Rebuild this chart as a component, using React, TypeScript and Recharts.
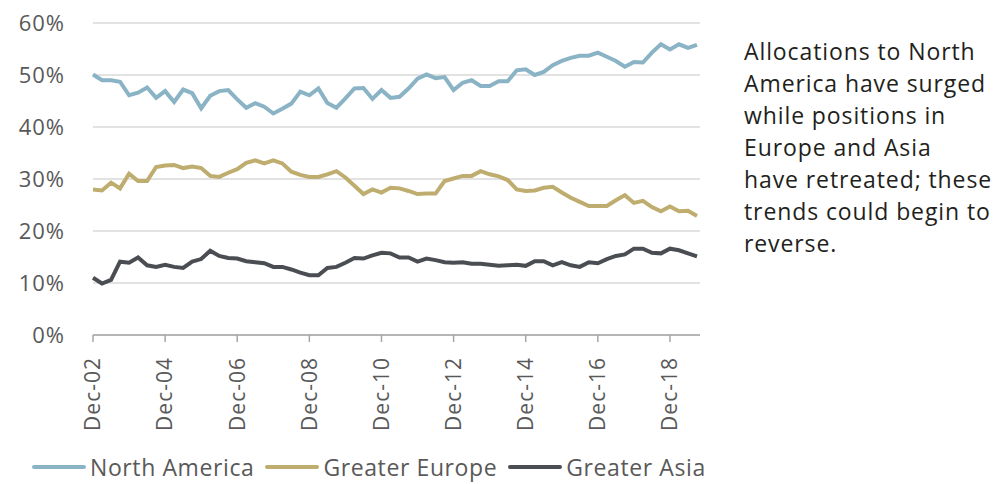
import { LineChart, Line, XAxis, YAxis, CartesianGrid, Legend } from 'recharts';

// quarterly observations, Dec-02 .. Sep-19
const quarters = [
  'Dec-02', 'Mar-03', 'Jun-03', 'Sep-03', 'Dec-03', 'Mar-04', 'Jun-04', 'Sep-04',
  'Dec-04', 'Mar-05', 'Jun-05', 'Sep-05', 'Dec-05', 'Mar-06', 'Jun-06', 'Sep-06',
  'Dec-06', 'Mar-07', 'Jun-07', 'Sep-07', 'Dec-07', 'Mar-08', 'Jun-08', 'Sep-08',
  'Dec-08', 'Mar-09', 'Jun-09', 'Sep-09', 'Dec-09', 'Mar-10', 'Jun-10', 'Sep-10',
  'Dec-10', 'Mar-11', 'Jun-11', 'Sep-11', 'Dec-11', 'Mar-12', 'Jun-12', 'Sep-12',
  'Dec-12', 'Mar-13', 'Jun-13', 'Sep-13', 'Dec-13', 'Mar-14', 'Jun-14', 'Sep-14',
  'Dec-14', 'Mar-15', 'Jun-15', 'Sep-15', 'Dec-15', 'Mar-16', 'Jun-16', 'Sep-16',
  'Dec-16', 'Mar-17', 'Jun-17', 'Sep-17', 'Dec-17', 'Mar-18', 'Jun-18', 'Sep-18',
  'Dec-18', 'Mar-19', 'Jun-19', 'Sep-19',
];

const northAmerica = [
  50.1, 49.0, 49.0, 48.7, 46.1, 46.6, 47.6, 45.6, 46.9, 44.8, 47.2, 46.5, 43.6, 46.0, 46.9, 47.1,
  45.3, 43.7, 44.6, 43.9, 42.6, 43.5, 44.5, 46.8, 46.1, 47.4, 44.6, 43.7, 45.5, 47.4, 47.5, 45.4,
  47.1, 45.6, 45.8, 47.4, 49.3, 50.1, 49.4, 49.6, 47.1, 48.5, 49.0, 47.9, 47.9, 48.8, 48.8, 50.9,
  51.1, 50.0, 50.6, 51.9, 52.7, 53.3, 53.7, 53.7, 54.3, 53.5, 52.7, 51.6, 52.5, 52.4, 54.3, 55.9,
  54.9, 55.9, 55.2, 55.8,
];

const greaterEurope = [
  28.0, 27.8, 29.3, 28.2, 31.0, 29.6, 29.6, 32.3, 32.6, 32.7, 32.1, 32.4, 32.1, 30.6, 30.4, 31.2,
  31.9, 33.1, 33.6, 33.0, 33.6, 33.0, 31.4, 30.8, 30.4, 30.4, 30.9, 31.5, 30.3, 28.7, 27.1, 28.0,
  27.4, 28.3, 28.2, 27.7, 27.1, 27.2, 27.2, 29.6, 30.1, 30.6, 30.6, 31.5, 30.9, 30.5, 29.8, 28.0,
  27.7, 27.8, 28.3, 28.5, 27.4, 26.4, 25.6, 24.8, 24.8, 24.8, 25.9, 26.9, 25.4, 25.8, 24.6, 23.8,
  24.7, 23.8, 23.9, 22.9,
];

const greaterAsia = [
  11.0, 9.9, 10.6, 14.1, 13.9, 14.9, 13.4, 13.1, 13.5, 13.1, 12.9, 14.1, 14.6, 16.2, 15.2, 14.8,
  14.7, 14.2, 14.0, 13.8, 13.1, 13.1, 12.6, 12.0, 11.5, 11.5, 12.9, 13.1, 13.9, 14.8, 14.7, 15.3,
  15.8, 15.7, 14.9, 14.9, 14.1, 14.7, 14.4, 14.0, 13.9, 14.0, 13.7, 13.7, 13.5, 13.3, 13.4, 13.5,
  13.3, 14.2, 14.2, 13.4, 14.0, 13.4, 13.1, 14.0, 13.8, 14.6, 15.2, 15.5, 16.6, 16.6, 15.8, 15.7,
  16.6, 16.3, 15.7, 15.1,
];

const yTicks = [0, 10, 20, 30, 40, 50, 60];

const annotation = [
  'Allocations to North',
  'America have surged',
  'while positions in',
  'Europe and Asia',
  'have retreated; these',
  'trends could begin to',
  'reverse.',
];

const SERIES = [
  { key: 'na', name: 'North America', color: '#8ab4c5' },
  { key: 'ge', name: 'Greater Europe', color: '#bead6f' },
  { key: 'ga', name: 'Greater Asia', color: '#4a4e53' },
];

const FONT = '"Open Sans", sans-serif';
const GREY_TEXT = '#595959';

const data = quarters.map((q, i) => ({
  date: q,
  na: northAmerica[i],
  ge: greaterEurope[i],
  ga: greaterAsia[i],
}));

const XTick = ({ x, y, payload }: any) => (
  <g transform={`translate(${x},${y})`}>
    <text
      transform="rotate(-90)"
      x={-13}
      dy="0.35em"
      textAnchor="end"
      fill={GREY_TEXT}
      fontSize={21}
      letterSpacing={1}
      fontFamily={FONT}
    >
      {payload.value}
    </text>
  </g>
);

const renderLegend = () => (
  <div style={{ height: 64, position: 'relative' }}>
    <div
      style={{
        position: 'absolute',
        left: 32,
        top: 35,
        display: 'flex',
        alignItems: 'center',
        whiteSpace: 'nowrap',
        fontFamily: FONT,
        fontSize: 23,
        letterSpacing: 0.6,
        lineHeight: '24px',
        color: GREY_TEXT,
      }}
    >
      {SERIES.map((s) => (
        <div key={s.key} style={{ display: 'flex', alignItems: 'center', marginRight: 11 }}>
          <span style={{ display: 'inline-block', width: 54, height: 4, background: s.color, borderRadius: 2, marginRight: 4 }} />
          <span>{s.name}</span>
        </div>
      ))}
    </div>
  </div>
);

export default function App() {
  return (
    <div style={{ position: 'absolute', left: 0, top: 0, width: 994, height: 484, background: '#fff' }}>
      <LineChart
        width={720}
        height={484}
        data={data}
        margin={{ top: 23, right: 20, bottom: 0, left: 0 }}
      >
        <CartesianGrid vertical={false} stroke="#d9d9d9" strokeWidth={1.5} />
        <XAxis
          dataKey="date"
          interval={7}
          height={85}
          tickSize={7}
          padding={{ left: 0, right: 3 }}
          axisLine={{ stroke: '#a6a6a6', strokeWidth: 1.5 }}
          tickLine={{ stroke: '#a6a6a6', strokeWidth: 1.5 }}
          tick={<XTick />}
        />
        <YAxis
          width={93}
          domain={[0, 60]}
          ticks={yTicks}
          axisLine={false}
          tickLine={false}
          tickSize={0}
          tickMargin={28}
          tickFormatter={(v) => `${v}%`}
          tick={{ fill: GREY_TEXT, fontSize: 22, fontFamily: FONT, letterSpacing: 1 }}
        />
        <Legend verticalAlign="bottom" content={renderLegend} />
        {SERIES.map((s) => (
          <Line
            key={s.key}
            type="linear"
            dataKey={s.key}
            name={s.name}
            stroke={s.color}
            strokeWidth={4}
            dot={false}
            activeDot={false}
            isAnimationActive={false}
          />
        ))}
      </LineChart>
      <div
        style={{
          position: 'absolute',
          left: 744,
          top: 35,
          fontFamily: FONT,
          fontSize: 23,
          letterSpacing: 0.9,
          lineHeight: '32px',
          color: '#231f20',
          whiteSpace: 'nowrap',
        }}
      >
        {annotation.map((line) => (
          <div key={line}>{line}</div>
        ))}
      </div>
    </div>
  );
}
